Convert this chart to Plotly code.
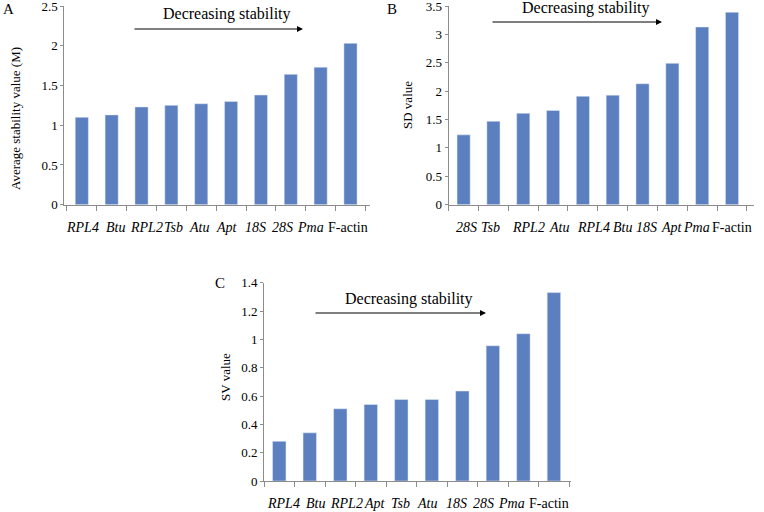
import plotly.graph_objects as go

# Panel A: average stability value (M)
cats_a = ["RPL4", "Btu", "RPL2", "Tsb", "Atu", "Apt", "18S", "28S", "Pma", "F-actin"]
vals_a = [1.10, 1.13, 1.23, 1.25, 1.27, 1.30, 1.38, 1.64, 1.73, 2.03]

# Panel B: SD value
cats_b = ["28S", "Tsb", "RPL2", "Atu", "RPL4", "Btu", "18S", "Apt", "Pma", "F-actin"]
vals_b = [1.23, 1.47, 1.61, 1.66, 1.91, 1.93, 2.13, 2.49, 3.13, 3.39]

# Panel C: SV value
cats_c = ["RPL4", "Btu", "RPL2", "Apt", "Tsb", "Atu", "18S", "28S", "Pma", "F-actin"]
vals_c = [0.28, 0.34, 0.51, 0.54, 0.575, 0.575, 0.635, 0.955, 1.04, 1.33]

ticks_a = [0, 0.5, 1, 1.5, 2, 2.5]
ticks_b = [0, 0.5, 1, 1.5, 2, 2.5, 3, 3.5]
ticks_c = [0, 0.2, 0.4, 0.6, 0.8, 1, 1.2, 1.4]

# small horizontal nudges (px) of the category labels, as placed in the original
nudge_a = [1, 3.5, 5, 2, -2.7, -3.6, -5.7, -8, -10, -2.5]
nudge_b = [3, -2.5, 5, 5.7, 10.7, 9.5, 4.2, -0.5, -5.2, 0]
nudge_c = [4, 5.3, 5.9, 3.8, -0.5, -4.6, -5.9, -9.8, -12.3, -4.9]

W, H = 764, 512
BAR = "#5B7FBF"
AX = "#8C8C8C"
FONT = "'Liberation Serif', 'Times New Roman', Times, serif"


def fmt(v):
    return "%g" % v


def label(c):
    return c if c == "F-actin" else "<i>%s</i>" % c


fig = go.Figure()
fig.add_bar(x=cats_a, y=vals_a, xaxis="x", yaxis="y", marker_color=BAR, width=0.44)
fig.add_bar(x=cats_b, y=vals_b, xaxis="x2", yaxis="y2", marker_color=BAR, width=0.44)
fig.add_bar(x=cats_c, y=vals_c, xaxis="x3", yaxis="y3", marker_color=BAR, width=0.44)


def xax(cats, dom, anchor):
    return dict(domain=dom, anchor=anchor, type="category",
                categoryorder="array", categoryarray=cats,
                showticklabels=False,
                tickson="boundaries", ticks="outside", ticklen=5, tickcolor=AX,
                showline=True, linecolor=AX, linewidth=1, showgrid=False,
                automargin=False, fixedrange=True)


def yax(ticks, dom, anchor):
    return dict(domain=dom, anchor=anchor, range=[0, ticks[-1]],
                tickvals=ticks, ticktext=[fmt(t) for t in ticks],
                ticks="outside", ticklen=3, tickcolor=AX,
                showline=True, linecolor=AX, linewidth=1, showgrid=False,
                zeroline=False, automargin=False, ticklabeloverflow="allow",
                tickfont=dict(family=FONT, size=13, color="black"), fixedrange=True)


def px(xp):
    return xp / W


def py(yp):
    return 1 - yp / H


fig.update_layout(
    width=W, height=H, margin=dict(l=0, r=0, t=0, b=0),
    paper_bgcolor="white", plot_bgcolor="white", showlegend=False,
    font=dict(family=FONT),
    bargap=0.56,
    xaxis=xax(cats_a, [px(64.3), px(370)], "y"),
    yaxis=yax(ticks_a, [py(204.7), py(6)], "x"),
    xaxis2=xax(cats_b, [px(448.7), px(754)], "y2"),
    yaxis2=yax(ticks_b, [py(204.7), py(6)], "x2"),
    xaxis3=xax(cats_c, [px(264), px(571)], "y3"),
    yaxis3=yax(ticks_c, [py(481), py(282.7)], "x3"),
)

ann = []
# category labels
for cats, nudges, xr, ly in [(cats_a, nudge_a, "x", 227), (cats_b, nudge_b, "x2", 227),
                             (cats_c, nudge_c, "x3", 503)]:
    for c, n in zip(cats, nudges):
        ann.append(dict(text=label(c), x=c, xref=xr, y=py(ly), yref="paper",
                        xshift=n, showarrow=False, xanchor="center", yanchor="middle",
                        font=dict(family=FONT, size=14, color="black")))
# panel letters
for t, x, y in [("A", 8, 9), ("B", 392, 9), ("C", 220, 283)]:
    ann.append(dict(text=t, x=px(x), y=py(y), xref="paper", yref="paper",
                    showarrow=False, xanchor="center", yanchor="middle",
                    font=dict(family=FONT, size=15, color="black")))
# y titles
for t, x, y in [("Average stability value (M)", 15, 119), ("SD value", 407, 105),
                ("SV value", 225, 377)]:
    ann.append(dict(text=t, x=px(x), y=py(y), xref="paper", yref="paper",
                    showarrow=False, textangle=-90, xanchor="center", yanchor="middle",
                    font=dict(family=FONT, size=13, color="black")))
# "Decreasing stability" text and arrows
for tx, ty, x0, x1, ay in [(227, 14, 133, 303, 29), (586, 8, 491, 662, 22),
                           (409, 299, 314, 486, 313)]:
    ann.append(dict(text="Decreasing stability", x=px(tx), y=py(ty), xref="paper",
                    yref="paper", showarrow=False, xanchor="center", yanchor="middle",
                    font=dict(family=FONT, size=16, color="black")))
    ann.append(dict(text="", x=px(x1), y=py(ay), xref="paper", yref="paper",
                    showarrow=True, ax=-(x1 - x0), ay=0, arrowhead=2, arrowsize=1,
                    arrowwidth=1.2, arrowcolor="black"))
fig.update_layout(annotations=ann)

fig.write_html("out.html", config={"displayModeBar": False},
               post_script="document.body.style.margin='0';")
